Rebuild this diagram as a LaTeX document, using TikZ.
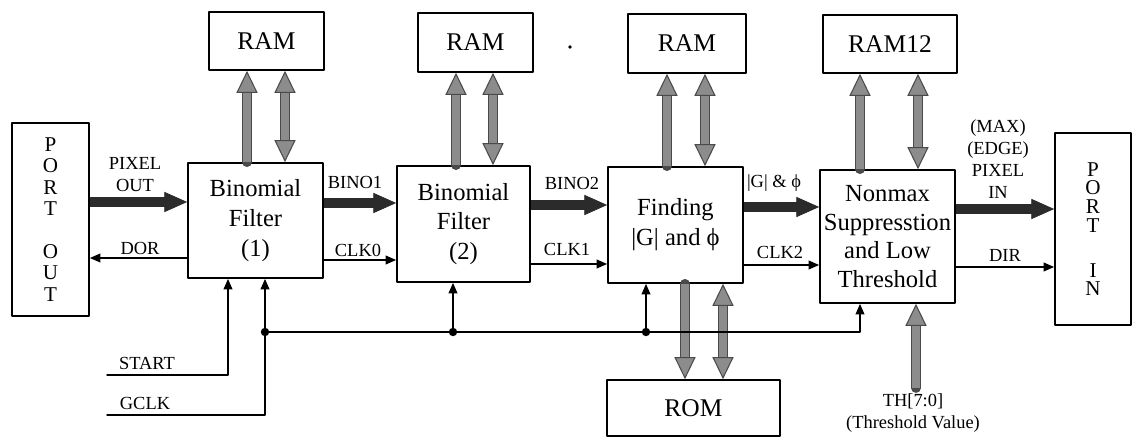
\documentclass[tikz,border=0pt]{standalone}
\usepackage{fontspec}
\setmainfont{Liberation Serif}
\usetikzlibrary{arrows.meta}

\definecolor{datac}{HTML}{2B2B2B}
\definecolor{busgray}{HTML}{8C8C8C}
\definecolor{busedge}{HTML}{4A4A4A}

\tikzset{
  blk/.style={draw, line width=1pt, inner sep=0pt, align=center,
    font=\fontsize{14}{17}\selectfont},
  mem/.style={draw, line width=1pt, inner sep=0pt,
    font=\fontsize{14.5}{17}\selectfont},
  port/.style={draw, line width=1pt, inner sep=0pt, align=center,
    font=\fontsize{12}{12.2}\selectfont},
  lbl/.style={inner sep=0pt, align=center, font=\fontsize{10.5}{12.5}\selectfont},
  sig/.style={line width=0.8pt, -{Triangle[width=5pt,length=6pt]}},
  data/.style={line width=5.4pt, line cap=butt, draw=datac,
    -{Triangle[width=11.5pt,length=13pt,fill=datac,color=datac,line width=0.5pt]}},
  bus/.style={line width=4.4pt, line cap=butt, draw=busgray,
    preaction={draw=busedge, line width=5.6pt, -, shorten >=11.5pt},
    -{Triangle[width=12pt,length=12.5pt,fill=busgray,color=busedge,line width=0.6pt]}},
  busd/.style={line width=4.4pt, line cap=butt, draw=busgray,
    preaction={draw=busedge, line width=5.6pt, -, shorten >=11.5pt, shorten <=11.5pt},
    {Triangle[width=12pt,length=12.5pt,fill=busgray,color=busedge,line width=0.6pt]}-{Triangle[width=12pt,length=12.5pt,fill=busgray,color=busedge,line width=0.6pt]}}
}

\begin{document}
\begin{tikzpicture}[x=0.02cm, y=-0.02cm, line cap=round, line join=round]
\useasboundingbox (0,0) rectangle (1133,438);

% main blocks
\node[port, minimum width=1.54cm, minimum height=3.86cm] (portout) at (50.5,219.5)
  {P\\O\\R\\T\\[12.2pt]O\\U\\T};
\node[blk, minimum width=2.7cm, minimum height=2.3cm] (bfa) at (255.5,220.5)
  {Binomial\\Filter\\(1)};
\node[blk, minimum width=2.66cm, minimum height=2.32cm] (bfb) at (463.5,224)
  {Binomial\\Filter\\(2)};
\node[blk, minimum width=2.7cm, minimum height=2.32cm] (find) at (675.5,225)
  {Finding\\|G| and ϕ};
\node[blk, minimum width=2.7cm, minimum height=2.66cm,
  font=\fontsize{14}{16.2}\selectfont] (nms) at (887.5,236.5)
  {Nonmax\\Suppresstion\\and Low\\Threshold};
\node[port, minimum width=1.52cm, minimum height=3.84cm,
  font=\fontsize{12}{10.6}\selectfont] (portin) at (1093,229)
  {P\\O\\R\\T\\[15pt]I\\N};

% memories
\node[mem, minimum width=2.3cm, minimum height=1.16cm] (rama) at (266.5,41) {RAM};
\node[mem, minimum width=2.3cm, minimum height=1.18cm] (ramb) at (475.5,42.5) {RAM};
\node[mem, minimum width=2.36cm, minimum height=1.18cm] (ramc) at (687,43.5) {RAM};
\node[mem, minimum width=2.68cm, minimum height=1.16cm] (ramd) at (890,44) {RAM12};
\node[mem, minimum width=3.46cm, minimum height=1.12cm] (rom) at (693.5,408) {ROM};

\fill (570,47) circle (1.1pt);

% memory buses
\draw[bus]  (bfa.north -| 247,0) -- (rama.south -| 247,0);
\draw[busd] (bfa.north -| 285,0) -- (rama.south -| 285,0);
\draw[bus]  (bfb.north -| 456,0) -- (ramb.south -| 456,0);
\draw[busd] (bfb.north -| 493,0) -- (ramb.south -| 493,0);
\draw[bus]  (find.north -| 667,0) -- (ramc.south -| 667,0);
\draw[busd] (find.north -| 705,0) -- (ramc.south -| 705,0);
\draw[bus]  (nms.north -| 860,0) -- (ramd.south -| 860,0);
\draw[busd] (nms.north -| 918,0) -- (ramd.south -| 918,0);
\draw[bus]  (find.south -| 685,0) -- (rom.north -| 685,0);
\draw[busd] (find.south -| 723,0) -- (rom.north -| 723,0);

% data path
\draw[data] (portout.east |- 0,202) -- (bfa.west |- 0,202);
\draw[data] (bfa.east |- 0,203) -- (bfb.west |- 0,203);
\draw[data] (bfb.east |- 0,205) -- (find.west |- 0,205);
\draw[data] (find.east |- 0,207) -- (nms.west |- 0,207);
\draw[data] (nms.east |- 0,209) -- (portin.west |- 0,209);

% handshake lines
\draw[sig] (bfa.west |- 0,258) -- (portout.east |- 0,258);
\draw[sig] (bfa.east |- 0,260) -- (bfb.west |- 0,260);
\draw[sig] (bfb.east |- 0,264) -- (find.west |- 0,264);
\draw[sig] (find.east |- 0,265) -- (nms.west |- 0,265);
\draw[sig] (nms.east |- 0,267) -- (portin.west |- 0,267);

% labels
\node[lbl] (lpixo) at (135,175) {PIXEL\\OUT};
\node[lbl] (ldor) at (140,248) {DOR};
\node[lbl] (lbino1) at (355,182) {BINO1};
\node[lbl] (lclk0) at (358,250) {CLK0};
\node[lbl] (lbino2) at (572,183) {BINO2};
\node[lbl] (lclk1) at (567,249) {CLK1};
\node[lbl] (lgphi) at (774,183) {|G| \& ϕ};
\node[lbl] (lclk2) at (780,252) {CLK2};
\node[lbl] (lpixi) at (998,159) {(MAX)\\(EDGE)\\PIXEL\\IN};
\node[lbl] (ldir) at (1005,255) {DIR};

% clock and start
\coordinate (st) at (107,375);
\coordinate (gc) at (107,415);
\coordinate (j1) at (265,332);
\coordinate (j2) at (453,332);
\coordinate (j3) at (646,332);
\coordinate (jend) at (860,332);
\node[lbl] (lstart) at (147,363) {START};
\node[lbl] (lgclk) at (145,403) {GCLK};

\draw[sig] (st) -| (bfa.south -| 228,0);
\draw[sig] (gc) -| (bfa.south -| j1);
\draw[sig] (j1) -- (jend) -- (nms.south -| jend);
\draw[sig] (j2) -- (bfb.south -| j2);
\draw[sig] (j3) -- (find.south -| j3);
\foreach \j in {j1,j2,j3}
  \fill (\j) circle (2.4pt);

% threshold input
\coordinate (th) at (916,388);
\draw[bus] (th) -- (nms.south -| th);
\node[lbl] (lth) at (913,413) {TH[7:0]\\(Threshold Value)};
\end{tikzpicture}
\end{document}
